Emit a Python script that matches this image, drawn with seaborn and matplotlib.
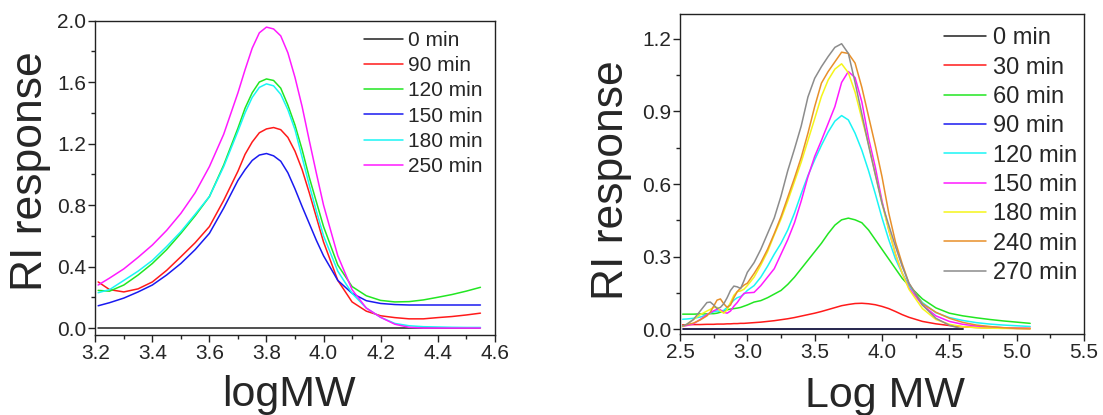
import numpy as np
import pandas as pd
import seaborn as sns
import matplotlib.pyplot as plt
from matplotlib.ticker import MultipleLocator

# ---- left panel data (logMW vs RI response) ----
left_logmw = [3.21, 3.25, 3.30, 3.35, 3.40, 3.45, 3.50, 3.55, 3.60, 3.65, 3.70, 3.725,
              3.75, 3.775, 3.80, 3.825, 3.85, 3.875, 3.90, 3.925, 3.95, 3.975, 4.00,
              4.05, 4.10, 4.15, 4.20, 4.25, 4.30, 4.35, 4.40, 4.45, 4.50, 4.55]
left_labels = ["0 min", "90 min", "120 min", "150 min", "180 min", "250 min"]
left_colors = ["#202020", "#FF1A1A", "#22E622", "#1A1AF0", "#1AF5F5", "#FF1AFF"]

l_0 = [0.0] * 34
l_90 = [0.30, 0.25, 0.235, 0.255, 0.30, 0.375, 0.464, 0.555, 0.66, 0.83, 1.02, 1.13,
        1.21, 1.27, 1.295, 1.304, 1.29, 1.24, 1.15, 1.03, 0.88, 0.72, 0.56,
        0.31, 0.17, 0.11, 0.08, 0.068, 0.06, 0.06, 0.068, 0.075, 0.085, 0.097]
l_120 = [0.245, 0.24, 0.28, 0.345, 0.42, 0.51, 0.616, 0.73, 0.855, 1.06, 1.30, 1.43,
         1.53, 1.60, 1.62, 1.61, 1.56, 1.45, 1.32, 1.16, 0.98, 0.82, 0.66,
         0.41, 0.27, 0.21, 0.18, 0.17, 0.172, 0.183, 0.20, 0.218, 0.24, 0.265]
l_150 = [0.145, 0.165, 0.195, 0.235, 0.28, 0.345, 0.42, 0.51, 0.616, 0.78, 0.96, 1.03,
         1.09, 1.125, 1.135, 1.12, 1.085, 1.01, 0.905, 0.79, 0.68, 0.57, 0.47,
         0.31, 0.226, 0.178, 0.16, 0.153, 0.15, 0.15, 0.15, 0.15, 0.15, 0.15]
l_180 = [0.23, 0.25, 0.31, 0.37, 0.44, 0.53, 0.627, 0.74, 0.855, 1.05, 1.28, 1.40,
         1.50, 1.565, 1.588, 1.575, 1.52, 1.42, 1.29, 1.11, 0.93, 0.76, 0.60,
         0.37, 0.226, 0.13, 0.07, 0.03, 0.015, 0.009, 0.007, 0.005, 0.004, 0.004]
l_250 = [0.28, 0.325, 0.385, 0.46, 0.54, 0.635, 0.746, 0.88, 1.05, 1.26, 1.53, 1.68,
         1.82, 1.92, 1.957, 1.945, 1.90, 1.79, 1.63, 1.44, 1.22, 1.006, 0.80,
         0.47, 0.25, 0.13, 0.07, 0.025, 0.005, 0.0, 0.0, 0.0, 0.0, 0.0]
left_series = [l_0, l_90, l_120, l_150, l_180, l_250]

# ---- right panel data (Log MW vs RI response) ----
right_logmw = [2.52, 2.55, 2.60, 2.65, 2.70, 2.725, 2.75, 2.775, 2.80, 2.825, 2.85, 2.875,
               2.90, 2.925, 2.95, 2.975, 3.00, 3.05, 3.10, 3.15, 3.20, 3.25, 3.30, 3.35,
               3.40, 3.45, 3.50, 3.55, 3.60, 3.65, 3.70, 3.75, 3.80, 3.85, 3.90, 3.95,
               4.00, 4.05, 4.10, 4.15, 4.20, 4.30, 4.40, 4.50, 4.60, 4.70, 4.80, 4.90,
               5.00, 5.10]
right_labels = ["0 min", "30 min", "60 min", "90 min", "120 min", "150 min",
                "180 min", "240 min", "270 min"]
right_colors = ["#202020", "#FF1A1A", "#22E622", "#1A1AF0", "#1AF5F5", "#FF1AFF",
                "#F5F51A", "#E8902A", "#8C8C8C"]
nan = np.nan

r_0 = [0.0] * 45 + [nan] * 5
r_30 = [0.018, 0.018, 0.019, 0.019, 0.02, 0.02, 0.02, 0.021, 0.021, 0.021, 0.022, 0.022,
        0.023, 0.023, 0.024, 0.024, 0.025, 0.027, 0.029, 0.032, 0.035, 0.039, 0.043, 0.048,
        0.054, 0.06, 0.066, 0.073, 0.081, 0.089, 0.097, 0.102, 0.106, 0.107, 0.105, 0.101,
        0.094, 0.085, 0.073, 0.06, 0.049, 0.032, 0.022, 0.015, 0.01, 0.007, 0.005, 0.004,
        0.003, 0.003]
r_60 = [0.062, 0.062, 0.062, 0.063, 0.063, 0.064, 0.064, 0.066, 0.07, 0.075, 0.08, 0.083,
        0.085, 0.087, 0.09, 0.095, 0.10, 0.112, 0.118, 0.13, 0.145, 0.16, 0.185, 0.215,
        0.25, 0.285, 0.32, 0.355, 0.395, 0.43, 0.452, 0.459, 0.452, 0.44, 0.41, 0.37,
        0.33, 0.29, 0.25, 0.21, 0.18, 0.125, 0.088, 0.066, 0.055, 0.047, 0.04, 0.034,
        0.029, 0.024]
r_90 = [0.0] * 45 + [nan] * 5
r_120 = [0.041, 0.042, 0.045, 0.05, 0.06, 0.066, 0.072, 0.075, 0.074, 0.078, 0.09, 0.105,
         0.12, 0.13, 0.135, 0.145, 0.16, 0.18, 0.215, 0.26, 0.31, 0.355, 0.41, 0.48,
         0.56, 0.635, 0.70, 0.76, 0.815, 0.86, 0.883, 0.865, 0.81, 0.74, 0.655, 0.56,
         0.46, 0.37, 0.29, 0.231, 0.18, 0.11, 0.068, 0.048, 0.036, 0.027, 0.021, 0.017,
         0.014, 0.011]
r_150 = [0.011, 0.015, 0.022, 0.04, 0.06, 0.068, 0.076, 0.082, 0.08, 0.07, 0.066, 0.075,
         0.095, 0.11, 0.13, 0.148, 0.15, 0.152, 0.18, 0.215, 0.25, 0.31, 0.37, 0.44,
         0.53, 0.63, 0.714, 0.78, 0.85, 0.92, 1.02, 1.065, 1.04, 0.94, 0.79, 0.67,
         0.53, 0.41, 0.31, 0.231, 0.17, 0.10, 0.055, 0.032, 0.02, 0.013, 0.009, 0.006,
         0.005, 0.004]
r_180 = [0.011, 0.02, 0.04, 0.06, 0.075, 0.082, 0.09, 0.09, 0.075, 0.066, 0.08, 0.11,
         0.14, 0.155, 0.158, 0.165, 0.18, 0.215, 0.265, 0.32, 0.39, 0.455, 0.53, 0.61,
         0.69, 0.78, 0.87, 0.962, 1.03, 1.075, 1.097, 1.06, 0.98, 0.87, 0.765, 0.64,
         0.52, 0.41, 0.31, 0.231, 0.165, 0.085, 0.04, 0.02, 0.01, 0.006, 0.004, 0.003,
         0.003, 0.003]
r_240 = [0.014, 0.018, 0.025, 0.038, 0.055, 0.07, 0.095, 0.12, 0.125, 0.105, 0.09, 0.10,
         0.13, 0.155, 0.17, 0.182, 0.19, 0.23, 0.275, 0.33, 0.395, 0.465, 0.545, 0.625,
         0.71, 0.81, 0.92, 1.017, 1.065, 1.105, 1.145, 1.14, 1.10, 1.0, 0.88, 0.76,
         0.63, 0.48, 0.36, 0.27, 0.19, 0.105, 0.07, 0.045, 0.028, 0.017, 0.011, 0.006,
         0.003, 0.001]
r_270 = [0.014, 0.02, 0.04, 0.075, 0.11, 0.112, 0.10, 0.085, 0.09, 0.105, 0.13, 0.16,
         0.178, 0.175, 0.168, 0.20, 0.235, 0.275, 0.33, 0.395, 0.46, 0.55, 0.655, 0.745,
         0.84, 0.96, 1.037, 1.085, 1.127, 1.165, 1.18, 1.14, 1.02, 0.89, 0.76, 0.64,
         0.52, 0.43, 0.342, 0.26, 0.19, 0.10, 0.045, 0.016, 0.0, nan, nan, nan,
         nan, nan]
right_series = [r_0, r_30, r_60, r_90, r_120, r_150, r_180, r_240, r_270]


def draw_panel(ax, xs, series, labels, colors, zorders):
    for ys, lab, col, z in zip(series, labels, colors, zorders):
        df = pd.DataFrame({"logMW": xs, "RI": ys}).dropna()
        sns.lineplot(data=df, x="logMW", y="RI", color=col, lw=1.1, sort=False,
                     estimator=None, ax=ax, label=lab, zorder=z)


sns.set_style("ticks")
plt.rcParams["font.family"] = ["Liberation Sans", "DejaVu Sans"]

fig = plt.figure(figsize=(11.03, 4.15), dpi=100)
ax1 = fig.add_axes([0.0864, 0.1928, 0.3621, 0.7578])
ax2 = fig.add_axes([0.6165, 0.1952, 0.3663, 0.7711])

draw_panel(ax1, left_logmw, left_series, left_labels, left_colors, [2, 2, 2, 2, 2, 2])
draw_panel(ax2, right_logmw, right_series, right_labels, right_colors,
           [3, 2, 2, 1, 2, 2, 2, 2, 2])

ax1.set_xlim(3.2, 4.6)
ax1.set_ylim(-0.045, 2.0)
ax1.xaxis.set_major_locator(MultipleLocator(0.2))
ax1.xaxis.set_minor_locator(MultipleLocator(0.1))
ax1.yaxis.set_major_locator(MultipleLocator(0.4))
ax1.yaxis.set_minor_locator(MultipleLocator(0.2))

ax2.set_xlim(2.5, 5.5)
ax2.set_ylim(-0.02, 1.303)
ax2.xaxis.set_major_locator(MultipleLocator(0.5))
ax2.xaxis.set_minor_locator(MultipleLocator(0.25))
ax2.yaxis.set_major_locator(MultipleLocator(0.3))
ax2.yaxis.set_minor_locator(MultipleLocator(0.15))

for ax in (ax1, ax2):
    for sp in ax.spines.values():
        sp.set_visible(True)
        sp.set_linewidth(1.0)
        sp.set_color("#222222")
    ax.tick_params(which="major", length=5, width=1.0, labelsize=15, pad=1.5,
                   color="#222222", direction="out")
    ax.tick_params(which="minor", length=3, width=1.0, color="#222222", direction="out")
    ax.set_ylabel("RI response", fontsize=32)
    ax.xaxis.set_major_formatter(plt.FuncFormatter(lambda v, p: f"{v:.1f}"))
    ax.yaxis.set_major_formatter(plt.FuncFormatter(lambda v, p: f"{v:.1f}"))

ax1.set_xlabel("logMW", fontsize=31)
ax2.set_xlabel("Log MW", fontsize=31)
ax1.xaxis.set_label_coords(0.485, -0.128)
ax2.xaxis.set_label_coords(0.507, -0.130)
ax1.yaxis.set_label_coords(-0.111, 0.52)
ax2.yaxis.set_label_coords(-0.118, 0.48)

ax1.legend(loc="upper left", bbox_to_anchor=(0.673, 0.967), frameon=False,
           fontsize=15, handlelength=1.86, handletextpad=0.26, labelspacing=0.30,
           borderpad=0, borderaxespad=0)
ax2.legend(loc="upper left", bbox_to_anchor=(0.653, 0.958), frameon=False,
           fontsize=17, handlelength=1.78, handletextpad=0.3, labelspacing=0.31,
           borderpad=0, borderaxespad=0)

fig.savefig("out.png", dpi=100)
plt.close(fig)
